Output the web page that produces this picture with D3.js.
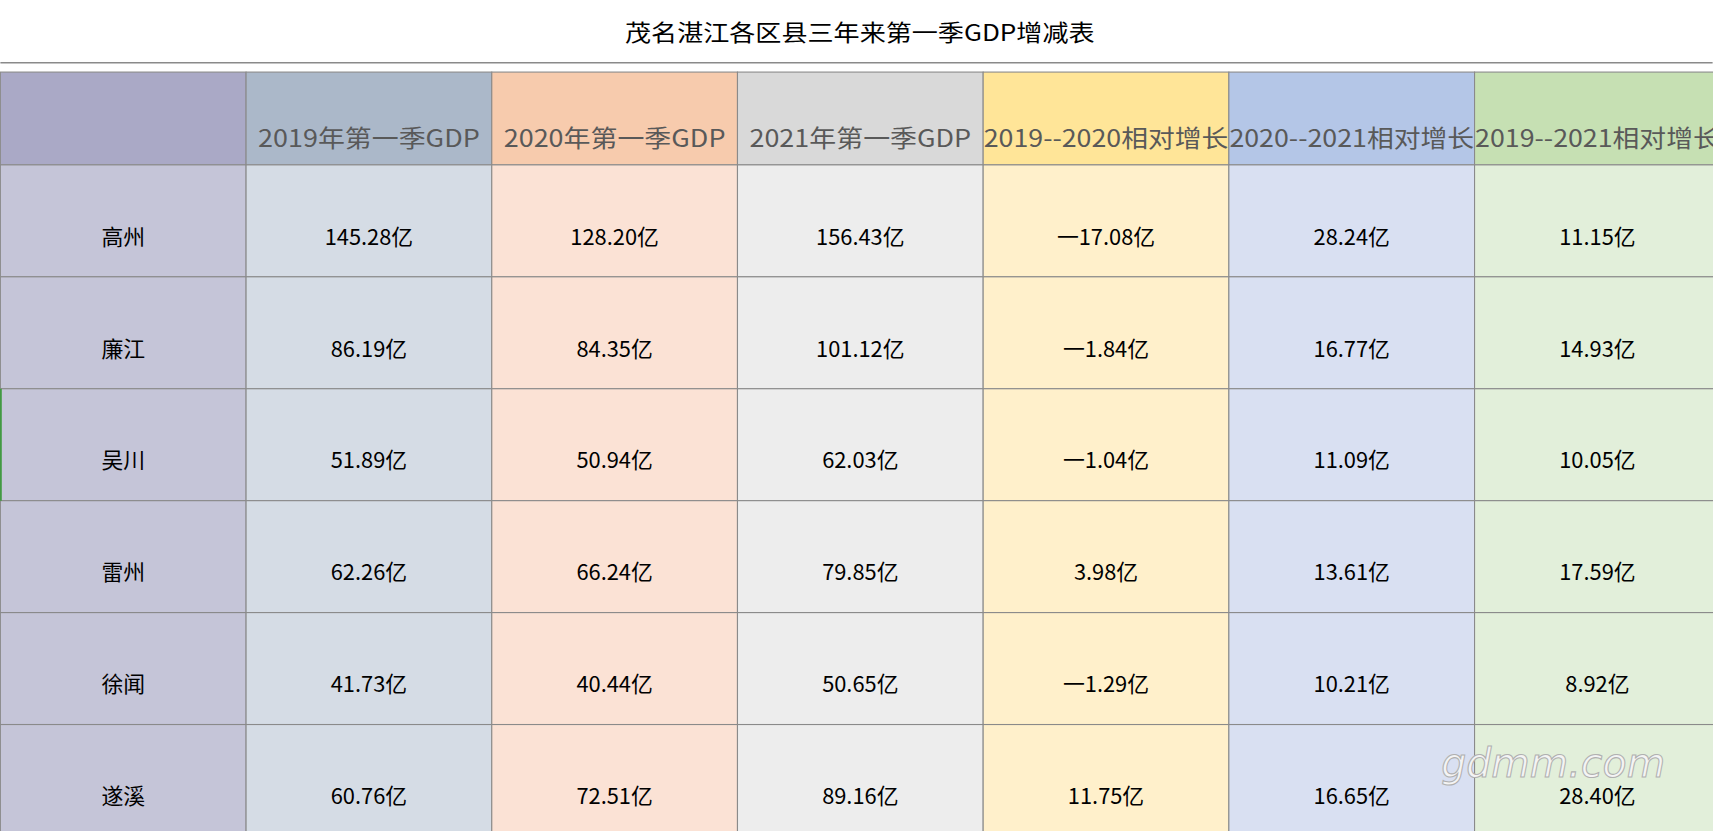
<!DOCTYPE html>
<html><head><meta charset="utf-8">
<script src="https://cdn.jsdelivr.net/npm/d3@7"></script>
<style>html,body{margin:0;padding:0;background:#fff;overflow:hidden}</style>
</head><body>
<svg id="c" width="1713" height="831" viewBox="0 0 1568 761"></svg>
<script>
const title = "茂名湛江各区县三年来第一季GDP增减表";
const headers = ["", "2019年第一季GDP", "2020年第一季GDP", "2021年第一季GDP", "2019--2020相对增长", "2020--2021相对增长", "2019--2021相对增长"];
const regions = ["高州", "廉江", "吴川", "雷州", "徐闻", "遂溪"];
const gdp2019 = [145.28, 86.19, 51.89, 62.26, 41.73, 60.76];
const gdp2020 = [128.20, 84.35, 50.94, 66.24, 40.44, 72.51];
const gdp2021 = [156.43, 101.12, 62.03, 79.85, 50.65, 89.16];
const grow1920 = [-17.08, -1.84, -1.04, 3.98, -1.29, 11.75];
const grow2021 = [28.24, 16.77, 11.09, 13.61, 10.21, 16.65];
const grow1921 = [11.15, 14.93, 10.05, 17.59, 8.92, 28.40];
const headColors = ["#aaa9c6", "#abb8c9", "#f7cbad", "#d9d9d9", "#ffe598", "#b4c6e7", "#c6e0b3"];
const bodyColors = ["#c5c5d8", "#d5dce5", "#fbe2d5", "#ededed", "#fff0cb", "#d9e0f2", "#e2efda"];

const font = "'Microsoft YaHei','Noto Sans CJK SC',sans-serif";
const svg = d3.select("#c");
const fmt = v => (v < 0 ? "一" + d3.format(".2f")(-v) : d3.format(".2f")(v)) + "亿";
const series = [gdp2019, gdp2020, gdp2021, grow1920, grow2021, grow1921];

const x = d3.scaleBand().domain(d3.range(7)).range([0, 1575]);
const y = d3.scaleBand().domain(d3.range(6)).range([151, 766]);

svg.append("text").attr("x", 787).attr("y", 38).attr("text-anchor", "middle")
  .attr("font-family", font).attr("font-size", 21).attr("fill", "#000")
  .attr("textLength", 430).attr("lengthAdjust", "spacingAndGlyphs").text(title);
svg.append("line").attr("x1", 0).attr("x2", 1568).attr("y1", 57.5).attr("y2", 57.5).attr("stroke", "#8a8a8a").attr("stroke-width", 1.5);

// header
const hg = svg.append("g");
hg.selectAll("rect").data(headers).join("rect")
  .attr("x", (d, i) => x(i)).attr("y", 66).attr("width", x.bandwidth()).attr("height", 85)
  .attr("fill", (d, i) => headColors[i]).attr("stroke", "#8a8a8a").attr("stroke-width", 1);
hg.selectAll("text").data(headers).join("text")
  .attr("x", (d, i) => x(i) + x.bandwidth() / 2).attr("y", 135).attr("text-anchor", "middle")
  .attr("font-family", font).attr("font-size", 22).attr("fill", "#595959")
  .attr("textLength", (d, i) => i === 0 ? null : (i >= 4 ? 224 : 203)).attr("lengthAdjust", "spacingAndGlyphs")
  .text(d => d);

// body
regions.forEach((r, ri) => {
  const cells = [r].concat(series.map(s => fmt(s[ri])));
  const g = svg.append("g");
  g.selectAll("rect").data(cells).join("rect")
    .attr("x", (d, i) => x(i)).attr("y", y(ri)).attr("width", x.bandwidth()).attr("height", y.bandwidth())
    .attr("fill", (d, i) => bodyColors[i]).attr("stroke", "#8a8a8a").attr("stroke-width", 1);
  g.selectAll("text").data(cells).join("text")
    .attr("x", (d, i) => x(i) + x.bandwidth() / 2).attr("y", y(ri) + 73).attr("text-anchor", "middle")
    .attr("font-family", font).attr("font-size", 20).attr("fill", "#000").text(d => d);
});
svg.append("line").attr("x1", 0.5).attr("x2", 0.5).attr("y1", y(2)).attr("y2", y(3)).attr("stroke", "#3a9a3a").attr("stroke-width", 1.5);

// watermark
svg.append("text").attr("x", 1422).attr("y", 712).attr("text-anchor", "middle")
  .attr("font-family", "'DejaVu Sans',sans-serif").attr("font-size", 38).attr("font-style", "italic")
  .attr("fill", "#f4f4f4").attr("stroke", "#b0b0b0").attr("stroke-width", 1)
  .attr("textLength", 205).attr("lengthAdjust", "spacingAndGlyphs")
  .text("gdmm.com");
</script>
</body></html>
